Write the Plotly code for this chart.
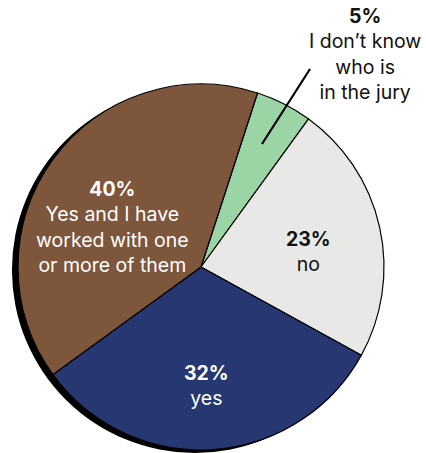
import plotly.graph_objects as go

labels = ["I don’t know<br>who is<br>in the jury", "no", "yes", "Yes and I have<br>worked with one<br>or more of them"]
values = [5, 23, 32, 40]
colors = ["#9bd4a5", "#e8e9e7", "#263771", "#7d563b"]
text_colors = ["#111111", "#111111", "#ffffff", "#ffffff"]
# label anchor positions in pixels (x, y) on the 426x453 canvas
label_px = [(365, 54), (308, 251), (206, 385), (112, 227)]

W, H = 426, 453
cx, cy, r = 201, 267, 183

def px_x(x):
    return x / W

def px_y(y):
    return 1 - y / H

fig = go.Figure()
# shadow disc
sdx, sdy = -6, 3
fig.add_trace(go.Pie(
    values=[1], marker=dict(colors=["#000000"], line=dict(width=0)),
    textinfo="none", hoverinfo="skip", sort=False, showlegend=False,
    domain=dict(x=[px_x(cx - r + sdx), px_x(cx + r + sdx)],
                y=[px_y(cy + r + sdy), px_y(cy - r + sdy)]),
))
fig.add_trace(go.Pie(
    labels=labels, values=values, sort=False, direction="clockwise", rotation=18,
    marker=dict(colors=colors, line=dict(color="#000000", width=1.2)),
    textinfo="none", showlegend=False,
    domain=dict(x=[px_x(cx - r), px_x(cx + r)], y=[px_y(cy + r), px_y(cy - r)]),
))

for lab, val, col, (lx, ly) in zip(labels, values, text_colors, label_px):
    fig.add_annotation(
        x=px_x(lx), y=px_y(ly), xref="paper", yref="paper",
        text=f"<b>{val}%</b><br>{lab}", showarrow=False, align="center",
        xanchor="center", yanchor="middle",
        font=dict(family="Inter, Open Sans, sans-serif", size=19.5, color=col),
    )

# leader line for the small slice
fig.add_shape(type="line", xref="paper", yref="paper",
              x0=px_x(310), y0=px_y(69), x1=px_x(262), y1=px_y(144),
              line=dict(color="#000000", width=2.2))

fig.update_layout(
    width=W, height=H, margin=dict(l=0, r=0, t=0, b=0),
    paper_bgcolor="#ffffff", plot_bgcolor="#ffffff",
)
fig.write_html("out.html")
